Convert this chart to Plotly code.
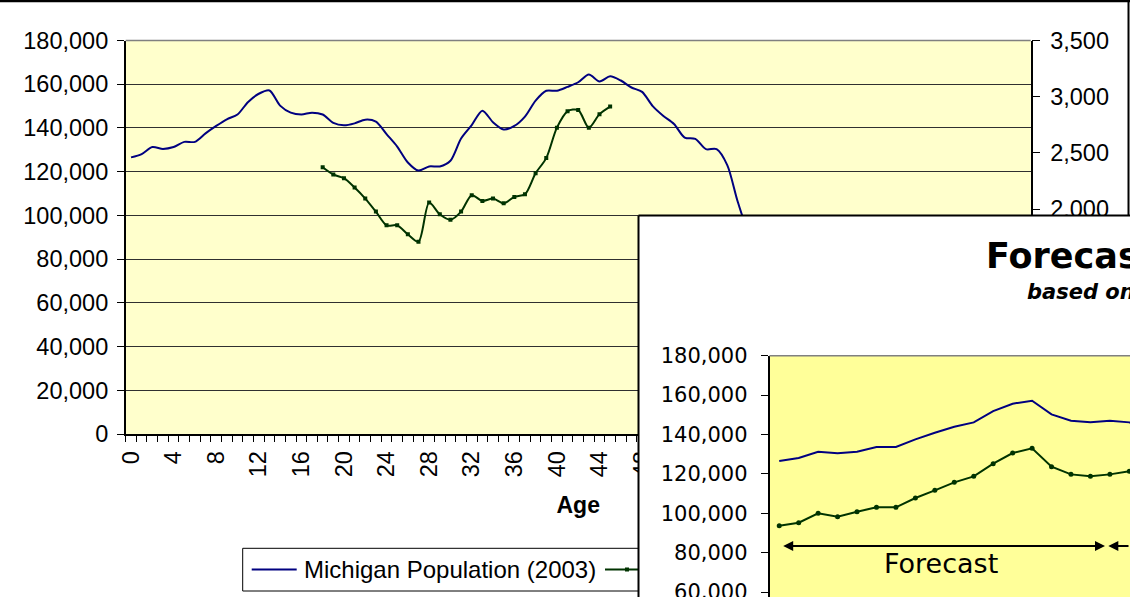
import plotly.graph_objects as go

# ---------------- data ----------------
ages = list(range(85))
age_ticks = list(range(0, 85, 4))
age_tick_text = [str(a) for a in age_ticks]

mi_pop_2003 = [
    126530, 128060, 131270, 130420, 131270, 133640, 133640, 137530, 140920, 143960,
    146160, 151910, 155640, 157160, 150220, 147000, 146160, 147000, 146160, 142300,
    141200, 142100, 143800, 142900, 137200, 131500, 124200, 120500, 122400, 122400,
    125000, 135200, 141300, 147900, 142600, 139300, 140900, 145200, 152500, 157000,
    157000, 158800, 160900, 164500, 161300, 163600, 161700, 158500, 156500, 150000,
    145500, 141800, 135600, 135000, 130300, 130300, 123000, 106000, 93000, 89000,
    86000, 82000, 79000, 75000, 71000, 68000, 66000, 64000, 62000, 60000,
    58000, 56000, 54000, 52000, 50000, 48000, 46000, 44000, 41000, 38000,
    35000, 32000, 29000, 26000, 23000,
]

birth_ages = list(range(18, 46))
births_2003 = [
    2373, 2308, 2275, 2192, 2094, 1978, 1856, 1856, 1776, 1710,
    2058, 1954, 1905, 1978, 2124, 2073, 2094, 2052, 2109, 2132,
    2320, 2454, 2725, 2870, 2882, 2724, 2845, 2912,
]

forecast_idx = list(range(20))
forecast_pop = [
    93710, 95230, 99970, 98280, 100820, 103010, 103010, 107750, 111640, 115700,
    118750, 125180, 130590, 132960, 123660, 119760, 118750, 119760, 121290, 122500,
]

left_ticks = list(range(0, 180001, 20000))
right_ticks = list(range(0, 3501, 500))

# ---------------- geometry helpers ----------------
W, H = 1130, 597


def px(x):
    return x / W


def py(y):
    return 1 - y / H


NAVY = "#000080"
DKGREEN = "#003300"
ARIAL = "Liberation Sans, Arial, sans-serif"
DEJA = "DejaVu Sans, Verdana, sans-serif"

c1_x = [px(125.7), px(1030.7)]
c1_y = [py(434), py(40.5)]
panel_x = [px(638.5), 1.0]
panel_y = [0.0, py(215.5)]
c2_x = [px(769.5), 1.0]
c2_y = [0.0, py(355.7)]
c2_xrange = [-0.5, -0.5 + (W - 769.5) / 19.45]
c2_yrange = [180000 - (H - 355.7) / 39.4 * 20000, 180000]

fig = go.Figure()

# chart 1
fig.add_trace(go.Scatter(x=ages, y=mi_pop_2003, name="Michigan Population (2003)",
                         mode="lines", line=dict(color=NAVY, width=2, shape="spline", smoothing=0.8),
                         xaxis="x", yaxis="y"))
fig.add_trace(go.Scatter(x=birth_ages, y=births_2003, name="Births by Age of Mother (2003)",
                         mode="lines+markers", line=dict(color=DKGREEN, width=2, shape="spline", smoothing=0.8),
                         marker=dict(symbol="square", size=4, color=DKGREEN),
                         xaxis="x", yaxis="y2"))
# panel (white card of the second chart)
fig.add_trace(go.Scatter(x=[], y=[], xaxis="x3", yaxis="y3", showlegend=False, hoverinfo="skip"))
# chart 2
fig.add_trace(go.Scatter(x=forecast_idx, y=mi_pop_2003[:20], name="Michigan Population (2003)",
                         mode="lines", line=dict(color=NAVY, width=2), xaxis="x4", yaxis="y4"))
fig.add_trace(go.Scatter(x=forecast_idx, y=forecast_pop, name="Forecast",
                         mode="lines+markers", line=dict(color=DKGREEN, width=2),
                         marker=dict(symbol="circle", size=5, color=DKGREEN),
                         xaxis="x4", yaxis="y4"))

tickfont1 = dict(family=ARIAL, size=23.5, color="black")
tickfont2 = dict(family=DEJA, size=21, color="black")

fig.update_layout(
    template="none",
    width=W, height=H, autosize=False,
    margin=dict(l=0, r=0, t=0, b=0, pad=0, autoexpand=False),
    paper_bgcolor="white", plot_bgcolor="white",
    showlegend=False,
    xaxis=dict(domain=c1_x, range=[-0.5, 84.5], anchor="y", automargin=False,
               tickmode="array", tickvals=age_ticks, ticktext=age_tick_text,
               tickangle=-90, ticks="outside", ticklen=6, tickcolor="rgba(0,0,0,0)",
               minor=dict(tickmode="array", tickvals=[a - 0.5 for a in range(86)],
                          ticks="outside", ticklen=6, tickcolor="black", showgrid=False),
               showline=True, linecolor="black", linewidth=1.5, showgrid=False, zeroline=False,
               tickfont=tickfont1,
               title=dict(text="<b>Age</b>", font=dict(family=ARIAL, size=23, color="black"), standoff=21)),
    yaxis=dict(domain=c1_y, range=[0, 180000], anchor="x", automargin=False,
               tickmode="array", tickvals=left_ticks, tickformat=",",
               ticks="outside", ticklen=7, tickcolor="black", ticklabelstandoff=4,
               showline=True, linecolor="black", linewidth=1.5,
               showgrid=True, gridcolor="#303030", gridwidth=1, zeroline=False,
               tickfont=tickfont1),
    yaxis2=dict(overlaying="y", side="right", anchor="x", range=[0, 3500], automargin=False,
                tickmode="array", tickvals=right_ticks, tickformat=",",
                ticks="outside", ticklen=8, tickcolor="black", ticklabelstandoff=5,
                showline=True, linecolor="black", linewidth=1.5, showgrid=False, zeroline=False,
                tickfont=tickfont1),
    xaxis3=dict(domain=panel_x, range=[0, 1], anchor="y3", visible=False, fixedrange=True, automargin=False),
    yaxis3=dict(domain=panel_y, range=[0, 1], anchor="x3", visible=False, fixedrange=True, automargin=False),
    xaxis4=dict(domain=c2_x, range=c2_xrange, anchor="y4", showline=False, showgrid=False, automargin=False,
                zeroline=False, showticklabels=False, ticks=""),
    yaxis4=dict(domain=c2_y, range=c2_yrange, anchor="x4", automargin=False,
                tickmode="array", tickvals=left_ticks, tickformat=",",
                ticks="outside", ticklen=7, tickcolor="black", ticklabelstandoff=9,
                ticklabeloverflow="allow",
                showline=True, linecolor="black", linewidth=1.5, showgrid=False, zeroline=False,
                tickfont=tickfont2),
)

shapes = [
    # chart 1 plot area fill
    dict(type="rect", xref="x domain", yref="y domain", x0=0, x1=1, y0=0, y1=1,
         fillcolor="#FFFFCC", line=dict(width=0), layer="below"),
    # chart 2 plot area fill (drawn inside its own subplot, above the white card)
    dict(type="rect", xref="x4", yref="y4", x0=c2_xrange[0], x1=c2_xrange[1],
         y0=c2_yrange[0], y1=c2_yrange[1], fillcolor="#FFFF99", line=dict(width=0), layer="below"),
    # plot-area top borders
    dict(type="line", xref="paper", yref="paper", x0=c1_x[0], x1=c1_x[1], y0=c1_y[1], y1=c1_y[1],
         line=dict(color="#808080", width=1.5), layer="above"),
    dict(type="line", xref="paper", yref="paper", x0=c2_x[0], x1=1, y0=c2_y[1], y1=c2_y[1],
         line=dict(color="#808080", width=1.5), layer="above"),
    # outer frame of chart 1
    dict(type="line", xref="paper", yref="paper", x0=0, x1=1, y0=py(1), y1=py(1),
         line=dict(color="black", width=2.5), layer="above"),
    dict(type="line", xref="paper", yref="paper", x0=px(1128.5), x1=px(1128.5), y0=py(0), y1=py(216),
         line=dict(color="black", width=2), layer="below"),
    # frame of the second chart card
    dict(type="line", xref="paper", yref="paper", x0=panel_x[0], x1=panel_x[0], y0=0, y1=panel_y[1],
         line=dict(color="black", width=2), layer="above"),
    dict(type="line", xref="paper", yref="paper", x0=panel_x[0], x1=1, y0=panel_y[1], y1=panel_y[1],
         line=dict(color="black", width=2), layer="above"),
    # legend of chart 1 (partly hidden by the card)
    dict(type="rect", xref="paper", yref="paper", x0=px(242.7), x1=px(720), y0=py(591), y1=py(548.3),
         fillcolor="white", line=dict(color="black", width=1), layer="below"),
    dict(type="line", xref="paper", yref="paper", x0=px(251.7), x1=px(296.7), y0=py(569.5), y1=py(569.5),
         line=dict(color=NAVY, width=2), layer="below"),
    dict(type="line", xref="paper", yref="paper", x0=px(605), x1=px(650), y0=py(569.5), y1=py(569.5),
         line=dict(color=DKGREEN, width=2), layer="below"),
    dict(type="rect", xref="paper", yref="paper", x0=px(625), x1=px(629), y0=py(571.5), y1=py(567.5),
         fillcolor=DKGREEN, line=dict(width=0), layer="below"),
]
fig.update_layout(shapes=shapes)

annotations = [
    dict(text="Michigan Population (2003)", xref="paper", yref="paper", x=px(302), y=py(569.5),
         xanchor="left", yanchor="middle", showarrow=False, font=dict(family=ARIAL, size=24, color="black")),
    dict(text="<b>Forecast</b>", xref="paper", yref="paper", x=px(985), y=py(256),
         xanchor="left", yanchor="middle", showarrow=False, borderpad=0,
         font=dict(family=DEJA, size=35, color="black")),
    dict(text="<b><i>based on 2003 data</i></b>", xref="paper", yref="paper", x=px(1026), y=py(292),
         xanchor="left", yanchor="middle", showarrow=False, borderpad=0,
         font=dict(family=DEJA, size=21, color="black")),
    dict(text="Forecast", xref="paper", yref="paper", x=px(941.3), y=py(563.5),
         xanchor="center", yanchor="middle", showarrow=False, font=dict(family=DEJA, size=27, color="black")),
    dict(text="", xref="paper", yref="paper", x=px(1105), y=py(546), ax=-(1105 - 781.7), ay=0,
         showarrow=True, arrowside="end+start", arrowhead=2, arrowsize=1, arrowwidth=2, arrowcolor="black"),
    dict(text="", xref="paper", yref="paper", x=px(1108.3), y=py(546), ax=60, ay=0,
         showarrow=True, arrowside="end", arrowhead=2, arrowsize=1, arrowwidth=2, arrowcolor="black"),
]
fig.update_layout(annotations=annotations)

fig.write_html("out.html", config={"displayModeBar": False},
               post_script="document.body.style.margin='0';document.body.style.overflow='hidden';")
